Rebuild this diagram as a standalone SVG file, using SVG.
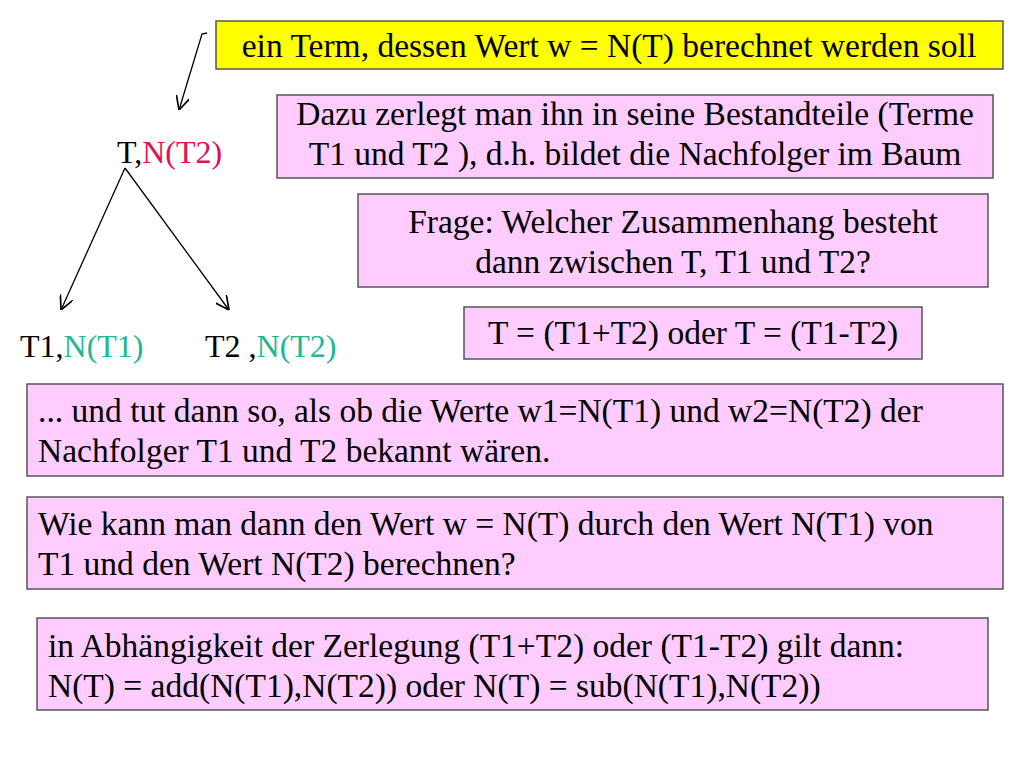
<svg xmlns="http://www.w3.org/2000/svg" width="1024" height="768" viewBox="0 0 1024 768">
<style>
.b{fill:#ffccff;stroke:#555;stroke-width:1.5}
.y{fill:#ffff00;stroke:#555;stroke-width:1.5}
.r{fill:#e0105a}.g{fill:#20b890}
.c{stroke:#000;stroke-width:1.3;fill:none}
</style>
<defs><marker id="a" viewBox="0 0 10 10" refX="10" refY="5" markerWidth="14" markerHeight="14" markerUnits="userSpaceOnUse" orient="auto"><path d="M0,0L10,5L0,10" fill="none" stroke="#000" stroke-width="1.2"/></marker></defs>
<rect width="1024" height="768" fill="#fff"/>
<g id="connectors">
<path class="c" d="M207,33L202,34L179,110" marker-end="url(#a)"/>
<path class="c" d="M125,168L61,310" marker-end="url(#a)"/>
<path class="c" d="M125,168L229,310" marker-end="url(#a)"/>
</g>
<g font-family="'Liberation Serif','Times New Roman','DejaVu Serif',serif" font-size="33.5" fill="#000">
<g id="n0"><rect class="y" x="216" y="21" width="787" height="48"/><text x="609" y="57" text-anchor="middle">ein Term, dessen Wert w = N(T) berechnet werden soll</text></g>
<g id="n1"><rect class="b" x="277" y="95" width="716" height="83"/><text x="635" y="125" text-anchor="middle">Dazu zerlegt man ihn in seine Bestandteile (Terme</text><text x="635" y="165" text-anchor="middle">T1 und T2 ), d.h. bildet die Nachfolger im Baum</text></g>
<g id="n2"><rect class="b" x="358" y="194" width="630" height="93"/><text x="673" y="233" text-anchor="middle">Frage: Welcher Zusammenhang besteht</text><text x="673" y="273" text-anchor="middle">dann zwischen T, T1 und T2?</text></g>
<g id="n3"><rect class="b" x="464" y="307" width="458" height="52"/><text x="693" y="344" text-anchor="middle">T = (T1+T2) oder T = (T1-T2)</text></g>
<g id="n4"><rect class="b" x="27" y="384" width="976" height="92"/><text x="38" y="422">... und tut dann so, als ob die Werte w1=N(T1) und w2=N(T2) der</text><text x="38" y="462">Nachfolger T1 und T2 bekannt wären.</text></g>
<g id="n5"><rect class="b" x="27" y="497" width="976" height="92"/><text x="38" y="535">Wie kann man dann den Wert w = N(T) durch den Wert N(T1) von</text><text x="38" y="575">T1 und den Wert N(T2) berechnen?</text></g>
<g id="n6"><rect class="b" x="37" y="618" width="951" height="92"/><text x="48" y="657">in Abhängigkeit der Zerlegung (T1+T2) oder (T1-T2) gilt dann:</text><text x="48" y="697">N(T) = add(N(T1),N(T2)) oder N(T) = sub(N(T1),N(T2))</text></g>
<g font-size="32">
<g id="t"><text x="117" y="163">T,<tspan class="r">N(T2)</tspan></text></g>
<g id="t1"><text x="20" y="357">T1,<tspan class="g">N(T1)</tspan></text></g>
<g id="t2"><text x="205" y="357">T2 ,<tspan class="g">N(T2)</tspan></text></g>
</g>
</g>
</svg>
